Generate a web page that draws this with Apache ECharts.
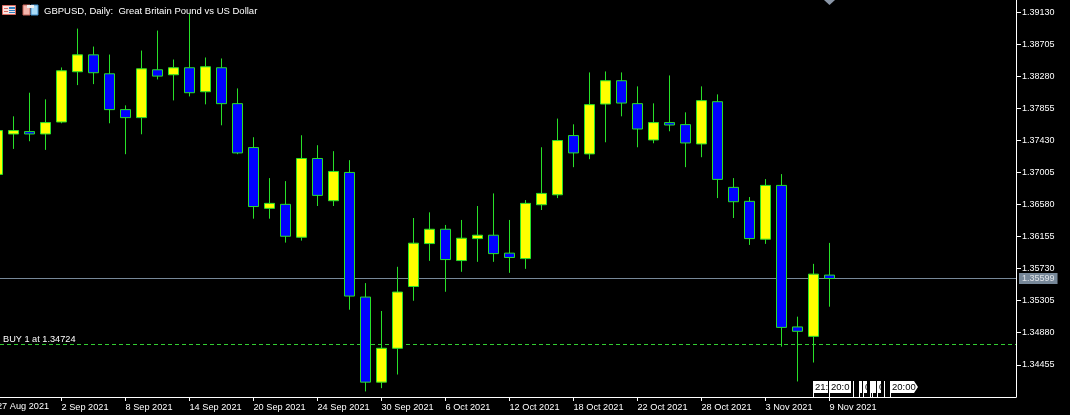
<!DOCTYPE html>
<html><head><meta charset="utf-8">
<style>html,body{margin:0;padding:0;background:#000}#c{width:1070px;height:415px}</style>
<script src="https://cdn.jsdelivr.net/npm/echarts@6/dist/echarts.min.js"></script>
</head><body><div id="c"></div>
<script>
const dates = ['27 Aug 2021','30 Aug 2021','31 Aug 2021','1 Sep 2021','2 Sep 2021','3 Sep 2021','6 Sep 2021','7 Sep 2021','8 Sep 2021','9 Sep 2021','10 Sep 2021','13 Sep 2021','14 Sep 2021','15 Sep 2021','16 Sep 2021','17 Sep 2021','20 Sep 2021','21 Sep 2021','22 Sep 2021','23 Sep 2021','24 Sep 2021','27 Sep 2021','28 Sep 2021','29 Sep 2021','30 Sep 2021','1 Oct 2021','4 Oct 2021','5 Oct 2021','6 Oct 2021','7 Oct 2021','8 Oct 2021','11 Oct 2021','12 Oct 2021','13 Oct 2021','14 Oct 2021','15 Oct 2021','18 Oct 2021','19 Oct 2021','20 Oct 2021','21 Oct 2021','22 Oct 2021','25 Oct 2021','26 Oct 2021','27 Oct 2021','28 Oct 2021','29 Oct 2021','1 Nov 2021','2 Nov 2021','3 Nov 2021','4 Nov 2021','5 Nov 2021','8 Nov 2021','9 Nov 2021'];
const open = [1.36979,1.37515,1.37547,1.37515,1.37674,1.38340,1.38564,1.38313,1.37838,1.37732,1.38366,1.38300,1.38393,1.38075,1.38393,1.37917,1.37335,1.36529,1.36582,1.36146,1.37190,1.36630,1.37005,1.35353,1.34225,1.34674,1.35493,1.36062,1.36252,1.35837,1.36128,1.36173,1.35935,1.35863,1.36577,1.36709,1.37494,1.37251,1.37912,1.38221,1.37917,1.37436,1.37666,1.37639,1.37383,1.37943,1.36807,1.36622,1.36120,1.36833,1.34957,1.34832,1.35644];
const close = [1.37560,1.37560,1.37515,1.37666,1.38353,1.38564,1.38327,1.37838,1.37732,1.38379,1.38282,1.38393,1.38062,1.38406,1.37917,1.37264,1.36553,1.36595,1.36159,1.37190,1.36701,1.37018,1.35366,1.34225,1.34674,1.35419,1.36067,1.36252,1.35850,1.36133,1.36173,1.35929,1.35877,1.36595,1.36727,1.37428,1.37264,1.37904,1.38221,1.37925,1.37581,1.37666,1.37634,1.37396,1.37957,1.36913,1.36617,1.36128,1.36833,1.34951,1.34899,1.35657,1.35599];
const low = [1.36956,1.37317,1.37419,1.37304,1.37657,1.38163,1.38176,1.37657,1.37247,1.37511,1.38238,1.37960,1.38013,1.37908,1.37630,1.37247,1.36392,1.36392,1.36075,1.36101,1.36560,1.36560,1.35185,1.34102,1.34145,1.34326,1.35304,1.35833,1.35423,1.35688,1.35820,1.35820,1.35674,1.35727,1.36507,1.36665,1.37075,1.37181,1.37405,1.37749,1.37339,1.37392,1.37551,1.37075,1.37207,1.36665,1.36401,1.36044,1.36058,1.34696,1.34234,1.34485,1.35225];
const high = [1.37590,1.37749,1.38062,1.37974,1.38397,1.38912,1.38674,1.38568,1.37894,1.38621,1.38886,1.38502,1.39110,1.38529,1.38516,1.38119,1.37472,1.36930,1.36890,1.37498,1.37366,1.37287,1.37168,1.35538,1.35168,1.35754,1.36401,1.36476,1.36309,1.36375,1.36560,1.36727,1.36375,1.36639,1.37339,1.37719,1.37643,1.38331,1.38344,1.38331,1.38146,1.37921,1.38291,1.37802,1.38146,1.38040,1.36930,1.36679,1.36917,1.36983,1.35093,1.35793,1.36071];
const priceTicks = [1.39130,1.38705,1.38280,1.37855,1.37430,1.37005,1.36580,1.36155,1.35730,1.35305,1.34880,1.34455];
const dateTicks = [4,8,12,16,20,24,28,32,36,40,44,48,52];
const bidPrice = 1.35599;
const buyPrice = 1.34724;
const title = 'GBPUSD, Daily:  Great Britain Pound vs US Dollar';
const buyLabel = 'BUY 1 at 1.34724';

const FONT = '"Liberation Sans"';
const LIME = '#28e028';
const candles = dates.map((d,i)=>[i,open[i],close[i],low[i],high[i]]);

function tag(x,w,text,arrow){
  const out=[];
  const y=381,h=12;
  if(w>0){
    out.push(arrow
      ? {type:'polygon',silent:true,shape:{points:[[x,y],[x+w-4,y],[x+w,y+h/2],[x+w-4,y+h],[x,y+h]]},style:{fill:'#fff'}}
      : {type:'rect',silent:true,shape:{x,y,width:w,height:h},style:{fill:'#fff'}});
  }
  out.push({type:'line',silent:true,shape:{x1:x+.5,y1:y,x2:x+.5,y2:397},style:{stroke:'#fff',lineWidth:1}});
  if(text) out.push({type:'text',silent:true,x:x+2,y:y+1.5,style:{text,fill:'#000',font:'9.5px '+FONT}});
  return out;
}

const graphics = [
  {type:'rect',silent:true,shape:{x:2.5,y:5.5,width:13,height:9},style:{fill:'#fbe3e0',stroke:'#d9695f',lineWidth:1}},
  {type:'rect',silent:true,shape:{x:9,y:7,width:6,height:2},style:{fill:'#2f7fc1'}},
  {type:'rect',silent:true,shape:{x:9,y:10,width:6,height:1},style:{fill:'#2f7fc1'}},
  {type:'rect',silent:true,shape:{x:9,y:12,width:6,height:1},style:{fill:'#2f7fc1'}},
  {type:'rect',silent:true,shape:{x:4,y:8,width:4,height:1},style:{fill:'#d9695f'}},
  {type:'rect',silent:true,shape:{x:4,y:11,width:4,height:1},style:{fill:'#d9695f'}},
  {type:'polygon',silent:true,shape:{points:[[23,5],[30,5],[30,15],[23,15]]},style:{fill:'#f4b5ac',stroke:'#c8645a',lineWidth:1}},
  {type:'polygon',silent:true,shape:{points:[[31,5],[38,5],[38,15],[31,15]]},style:{fill:'#a8daf7',stroke:'#3f8fcb',lineWidth:1}},
  {type:'rect',silent:true,shape:{x:27,y:5,width:7,height:3},style:{fill:'#eee'}},
  {type:'text',silent:true,x:44,y:6,style:{text:title,fill:'#fff',font:'9.5px '+FONT}},
  {type:'text',silent:true,x:-3,y:402,style:{text:dates[0],fill:'#fff',font:'9.2px '+FONT}},
  {type:'polygon',silent:true,shape:{points:[[824,0],[835,0],[829.5,5]]},style:{fill:'#8b97a8'}},
  ...tag(813,15,'21:'),
  ...tag(829,22,'20:0'),
  ...tag(853,0,''),
  ...tag(859,3,''),
  ...tag(863,4,'0'),
  ...tag(870,2,''),
  ...tag(872,4,''),
  ...tag(877,4,'0'),
  ...tag(884,0,''),
  ...tag(890,28,'20:00',true)
];

const chart = echarts.init(document.getElementById('c'),null,{renderer:'canvas'});
chart.setOption({
  animation:false,
  backgroundColor:'#000',
  grid:{left:0,right:54,top:0,height:397,containLabel:false},
  xAxis:{type:'value',min:0.15625,max:63.65625,
    splitLine:{show:false},
    axisLine:{show:true,onZero:false,lineStyle:{color:'#fff',width:1}},
    axisTick:{show:true,length:4,customValues:dateTicks,lineStyle:{color:'#fff',width:1}},
    axisLabel:{show:true,margin:6,color:'#fff',fontFamily:FONT,fontSize:9.2,align:'left',hideOverlap:false,
      customValues:dateTicks,formatter:v=>dates[v]}},
  yAxis:{type:'value',position:'right',min:1.34028,max:1.392912,
    splitLine:{show:false},
    axisLine:{show:true,onZero:false,lineStyle:{color:'#fff',width:1}},
    axisTick:{show:true,length:5,customValues:priceTicks,lineStyle:{color:'#fff',width:1}},
    axisLabel:{show:true,margin:6,color:'#fff',fontFamily:FONT,fontSize:9,
      customValues:priceTicks,formatter:v=>v.toFixed(5)}},
  graphic:graphics,
  series:[{
    type:'candlestick',
    data:candles,
    barWidth:10,
    clip:false,
    itemStyle:{color:'#ffff00',color0:'#0000ff',borderColor:LIME,borderColor0:LIME,borderWidth:1},
    markLine:{silent:true,symbol:'none',animation:false,precision:5,z:1,
      data:[
        {yAxis:bidPrice,lineStyle:{color:'#778899',type:'solid',width:1},
          label:{show:true,position:'end',distance:3,formatter:bidPrice.toFixed(5),color:'#dfe3e8',backgroundColor:'#778899',
            padding:[1,3,1,3],fontFamily:FONT,fontSize:9}},
        {yAxis:buyPrice,lineStyle:{color:'#32cd32',type:[4,3],width:1},
          label:{show:true,position:'insideStartTop',distance:1,padding:[0,0,0,2],formatter:buyLabel,color:'#fff',fontFamily:FONT,fontSize:9.2}}
      ]}
  }]
});
</script></body></html>
